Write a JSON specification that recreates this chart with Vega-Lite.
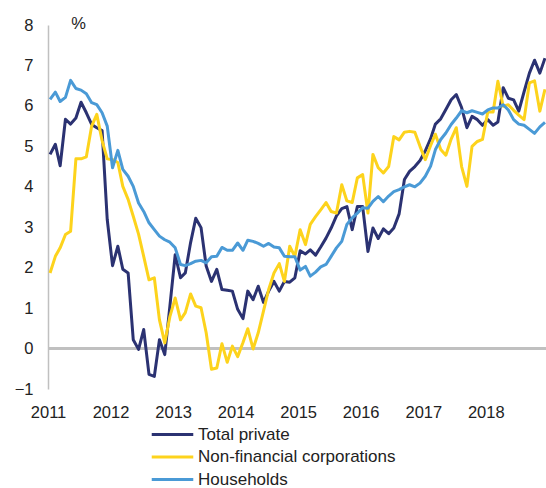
{
  "$schema": "https://vega.github.io/schema/vega-lite/v6.json",
  "width": 498,
  "height": 364,
  "autosize": {"type": "none"},
  "padding": {"left": 48, "top": 25, "right": 0, "bottom": 99},
  "background": "white",
  "config": {
    "view": {"stroke": null},
    "font": "Liberation Sans"
  },
  "data": {
    "values": [
      {"date": "2011-01", "Total private": 4.8, "Non-financial corporations": 1.87, "Households": 6.16},
      {"date": "2011-02", "Total private": 5.05, "Non-financial corporations": 2.28, "Households": 6.34},
      {"date": "2011-03", "Total private": 4.52, "Non-financial corporations": 2.49, "Households": 6.11},
      {"date": "2011-04", "Total private": 5.67, "Non-financial corporations": 2.82, "Households": 6.21},
      {"date": "2011-05", "Total private": 5.55, "Non-financial corporations": 2.9, "Households": 6.63},
      {"date": "2011-06", "Total private": 5.7, "Non-financial corporations": 4.69, "Households": 6.43},
      {"date": "2011-07", "Total private": 6.09, "Non-financial corporations": 4.69, "Households": 6.39},
      {"date": "2011-08", "Total private": 5.83, "Non-financial corporations": 4.74, "Households": 6.3},
      {"date": "2011-09", "Total private": 5.54, "Non-financial corporations": 5.5, "Households": 6.08},
      {"date": "2011-10", "Total private": 5.46, "Non-financial corporations": 5.79, "Households": 6.03},
      {"date": "2011-11", "Total private": 5.39, "Non-financial corporations": 5.14, "Households": 5.83},
      {"date": "2011-12", "Total private": 3.19, "Non-financial corporations": 4.69, "Households": 5.5},
      {"date": "2012-01", "Total private": 2.05, "Non-financial corporations": 4.67, "Households": 4.47},
      {"date": "2012-02", "Total private": 2.53, "Non-financial corporations": 4.6, "Households": 4.9},
      {"date": "2012-03", "Total private": 1.96, "Non-financial corporations": 4.01, "Households": 4.43},
      {"date": "2012-04", "Total private": 1.87, "Non-financial corporations": 3.69, "Households": 4.26},
      {"date": "2012-05", "Total private": 0.22, "Non-financial corporations": 3.27, "Households": 4.01},
      {"date": "2012-06", "Total private": -0.02, "Non-financial corporations": 2.83, "Households": 3.6},
      {"date": "2012-07", "Total private": 0.47, "Non-financial corporations": 2.28, "Households": 3.39},
      {"date": "2012-08", "Total private": -0.64, "Non-financial corporations": 1.7, "Households": 3.11},
      {"date": "2012-09", "Total private": -0.69, "Non-financial corporations": 1.75, "Households": 2.94},
      {"date": "2012-10", "Total private": 0.22, "Non-financial corporations": 0.71, "Households": 2.78},
      {"date": "2012-11", "Total private": -0.15, "Non-financial corporations": 0.14, "Households": 2.69},
      {"date": "2012-12", "Total private": 1.05, "Non-financial corporations": 0.79, "Households": 2.63},
      {"date": "2013-01", "Total private": 2.32, "Non-financial corporations": 1.25, "Households": 2.49},
      {"date": "2013-02", "Total private": 1.75, "Non-financial corporations": 0.71, "Households": 2.08},
      {"date": "2013-03", "Total private": 1.87, "Non-financial corporations": 0.89, "Households": 2.05},
      {"date": "2013-04", "Total private": 2.62, "Non-financial corporations": 1.35, "Households": 2.1},
      {"date": "2013-05", "Total private": 3.22, "Non-financial corporations": 1.05, "Households": 2.16},
      {"date": "2013-06", "Total private": 2.99, "Non-financial corporations": 1.01, "Households": 2.18},
      {"date": "2013-07", "Total private": 2.04, "Non-financial corporations": 0.39, "Households": 2.12},
      {"date": "2013-08", "Total private": 1.66, "Non-financial corporations": -0.51, "Households": 2.27},
      {"date": "2013-09", "Total private": 1.96, "Non-financial corporations": -0.48, "Households": 2.28},
      {"date": "2013-10", "Total private": 1.46, "Non-financial corporations": 0.12, "Households": 2.5},
      {"date": "2013-11", "Total private": 1.44, "Non-financial corporations": -0.34, "Households": 2.43},
      {"date": "2013-12", "Total private": 1.42, "Non-financial corporations": 0.06, "Households": 2.43},
      {"date": "2014-01", "Total private": 0.97, "Non-financial corporations": -0.2, "Households": 2.61},
      {"date": "2014-02", "Total private": 0.74, "Non-financial corporations": 0.15, "Households": 2.43},
      {"date": "2014-03", "Total private": 1.42, "Non-financial corporations": 0.49, "Households": 2.68},
      {"date": "2014-04", "Total private": 1.21, "Non-financial corporations": -0.01, "Households": 2.65},
      {"date": "2014-05", "Total private": 1.54, "Non-financial corporations": 0.39, "Households": 2.6},
      {"date": "2014-06", "Total private": 1.14, "Non-financial corporations": 0.93, "Households": 2.53},
      {"date": "2014-07", "Total private": 1.42, "Non-financial corporations": 1.46, "Households": 2.6},
      {"date": "2014-08", "Total private": 1.66, "Non-financial corporations": 1.87, "Households": 2.51},
      {"date": "2014-09", "Total private": 1.42, "Non-financial corporations": 2.1, "Households": 2.49},
      {"date": "2014-10", "Total private": 1.66, "Non-financial corporations": 1.66, "Households": 2.28},
      {"date": "2014-11", "Total private": 1.64, "Non-financial corporations": 2.53, "Households": 2.27},
      {"date": "2014-12", "Total private": 1.75, "Non-financial corporations": 2.28, "Households": 2.27},
      {"date": "2015-01", "Total private": 2.42, "Non-financial corporations": 2.94, "Households": 1.94},
      {"date": "2015-02", "Total private": 2.34, "Non-financial corporations": 2.57, "Households": 2.03},
      {"date": "2015-03", "Total private": 2.44, "Non-financial corporations": 3.07, "Households": 1.79},
      {"date": "2015-04", "Total private": 2.31, "Non-financial corporations": 3.26, "Households": 1.89},
      {"date": "2015-05", "Total private": 2.51, "Non-financial corporations": 3.43, "Households": 2.02},
      {"date": "2015-06", "Total private": 2.73, "Non-financial corporations": 3.61, "Households": 2.08},
      {"date": "2015-07", "Total private": 2.98, "Non-financial corporations": 3.39, "Households": 2.28},
      {"date": "2015-08", "Total private": 3.28, "Non-financial corporations": 3.35, "Households": 2.49},
      {"date": "2015-09", "Total private": 3.46, "Non-financial corporations": 4.05, "Households": 2.65},
      {"date": "2015-10", "Total private": 3.51, "Non-financial corporations": 3.65, "Households": 3.07},
      {"date": "2015-11", "Total private": 2.94, "Non-financial corporations": 3.61, "Households": 3.23},
      {"date": "2015-12", "Total private": 3.51, "Non-financial corporations": 4.22, "Households": 3.35},
      {"date": "2016-01", "Total private": 3.51, "Non-financial corporations": 4.3, "Households": 3.48},
      {"date": "2016-02", "Total private": 2.4, "Non-financial corporations": 3.35, "Households": 3.47},
      {"date": "2016-03", "Total private": 2.98, "Non-financial corporations": 4.8, "Households": 3.64},
      {"date": "2016-04", "Total private": 2.72, "Non-financial corporations": 4.47, "Households": 3.76},
      {"date": "2016-05", "Total private": 2.96, "Non-financial corporations": 4.34, "Households": 3.63},
      {"date": "2016-06", "Total private": 2.84, "Non-financial corporations": 4.5, "Households": 3.77},
      {"date": "2016-07", "Total private": 2.98, "Non-financial corporations": 5.24, "Households": 3.88},
      {"date": "2016-08", "Total private": 3.33, "Non-financial corporations": 5.16, "Households": 3.93},
      {"date": "2016-09", "Total private": 4.18, "Non-financial corporations": 5.35, "Households": 4.0},
      {"date": "2016-10", "Total private": 4.38, "Non-financial corporations": 5.37, "Households": 4.05},
      {"date": "2016-11", "Total private": 4.5, "Non-financial corporations": 5.35, "Households": 4.0},
      {"date": "2016-12", "Total private": 4.65, "Non-financial corporations": 5.0, "Households": 4.09},
      {"date": "2017-01", "Total private": 4.89, "Non-financial corporations": 4.67, "Households": 4.26},
      {"date": "2017-02", "Total private": 5.19, "Non-financial corporations": 5.02, "Households": 4.51},
      {"date": "2017-03", "Total private": 5.55, "Non-financial corporations": 5.3, "Households": 4.92},
      {"date": "2017-04", "Total private": 5.68, "Non-financial corporations": 4.92, "Households": 5.17},
      {"date": "2017-05", "Total private": 5.91, "Non-financial corporations": 4.78, "Households": 5.33},
      {"date": "2017-06", "Total private": 6.15, "Non-financial corporations": 5.18, "Households": 5.54},
      {"date": "2017-07", "Total private": 6.28, "Non-financial corporations": 5.46, "Households": 5.7},
      {"date": "2017-08", "Total private": 5.96, "Non-financial corporations": 4.5, "Households": 5.88},
      {"date": "2017-09", "Total private": 5.46, "Non-financial corporations": 4.01, "Households": 5.83},
      {"date": "2017-10", "Total private": 5.74, "Non-financial corporations": 5.0, "Households": 5.88},
      {"date": "2017-11", "Total private": 5.66, "Non-financial corporations": 5.12, "Households": 5.84},
      {"date": "2017-12", "Total private": 5.52, "Non-financial corporations": 5.17, "Households": 5.8},
      {"date": "2018-01", "Total private": 5.66, "Non-financial corporations": 5.85, "Households": 5.9},
      {"date": "2018-02", "Total private": 5.52, "Non-financial corporations": 5.85, "Households": 5.95},
      {"date": "2018-03", "Total private": 5.6, "Non-financial corporations": 6.61, "Households": 5.95},
      {"date": "2018-04", "Total private": 6.45, "Non-financial corporations": 5.99, "Households": 6.03},
      {"date": "2018-05", "Total private": 6.19, "Non-financial corporations": 6.03, "Households": 5.9},
      {"date": "2018-06", "Total private": 6.15, "Non-financial corporations": 5.89, "Households": 5.66},
      {"date": "2018-07", "Total private": 5.87, "Non-financial corporations": 5.77, "Households": 5.55},
      {"date": "2018-08", "Total private": 6.35, "Non-financial corporations": 5.66, "Households": 5.52},
      {"date": "2018-09", "Total private": 6.81, "Non-financial corporations": 6.57, "Households": 5.42},
      {"date": "2018-10", "Total private": 7.13, "Non-financial corporations": 6.62, "Households": 5.32},
      {"date": "2018-11", "Total private": 6.81, "Non-financial corporations": 5.87, "Households": 5.48},
      {"date": "2018-12", "Total private": 7.18, "Non-financial corporations": 6.41, "Households": 5.59}
    ]
  },
  "layer": [
    {
      "mark": {"type": "rule", "color": "#c0c0c0", "strokeWidth": 1.5},
      "encoding": {"y": {"datum": 0, "type": "quantitative"}}
    },
    {
      "transform": [
        {"fold": ["Total private", "Non-financial corporations", "Households"], "as": ["series", "value"]}
      ],
      "mark": {"type": "line", "strokeWidth": 3, "strokeJoin": "round"},
      "encoding": {
        "x": {
          "field": "date",
          "type": "temporal",
          "scale": {
            "type": "utc",
            "domain": [
              {"year": 2010, "month": 12, "date": 20, "utc": true},
              {"year": 2018, "month": 12, "date": 7, "utc": true}
            ]
          },
          "axis": {
            "title": null,
            "format": "%Y",
            "values": [
              {"year": 2011, "month": 1, "date": 1, "utc": true},
              {"year": 2012, "month": 1, "date": 1, "utc": true},
              {"year": 2013, "month": 1, "date": 1, "utc": true},
              {"year": 2014, "month": 1, "date": 1, "utc": true},
              {"year": 2015, "month": 1, "date": 1, "utc": true},
              {"year": 2016, "month": 1, "date": 1, "utc": true},
              {"year": 2017, "month": 1, "date": 1, "utc": true},
              {"year": 2018, "month": 1, "date": 1, "utc": true}
            ],
            "domain": false,
            "ticks": false,
            "grid": false,
            "labelFontSize": 16.5,
            "labelColor": "#222222",
            "labelPadding": 15,
            "labelOffset": -2,
            "labelFlush": false,
            "labelOverlap": false,
            "labelBound": false
          }
        },
        "y": {
          "field": "value",
          "type": "quantitative",
          "scale": {"domain": [-1, 8], "nice": false, "zero": false},
          "axis": {
            "title": "%",
            "titleAngle": 0,
            "titleX": 30,
            "titleY": -2,
            "titleAlign": "center",
            "titleBaseline": "middle",
            "titleFontSize": 16.5,
            "titleFontWeight": "normal",
            "titleColor": "#222222",
            "values": [-1, 0, 1, 2, 3, 4, 5, 6, 7, 8],
            "format": "d",
            "domain": true,
            "domainColor": "#c0c0c0",
            "domainWidth": 1.5,
            "ticks": false,
            "grid": false,
            "labelFontSize": 16.5,
            "labelColor": "#222222",
            "labelPadding": 15
          }
        },
        "color": {
          "field": "series",
          "type": "nominal",
          "scale": {
            "domain": ["Total private", "Non-financial corporations", "Households"],
            "range": ["#2b3272", "#fdd31c", "#4a9ad6"]
          },
          "legend": {
            "orient": "none",
            "legendX": 116,
            "legendY": 401,
            "title": null,
            "direction": "vertical",
            "symbolType": "M-5,0H5",
            "symbolSize": 69,
            "symbolStrokeWidth": 3,
            "labelFontSize": 17,
            "labelColor": "#222222",
            "labelOffset": 17,
            "labelLimit": 0,
            "rowPadding": 4.5,
            "padding": 0
          }
        }
      }
    }
  ]
}
